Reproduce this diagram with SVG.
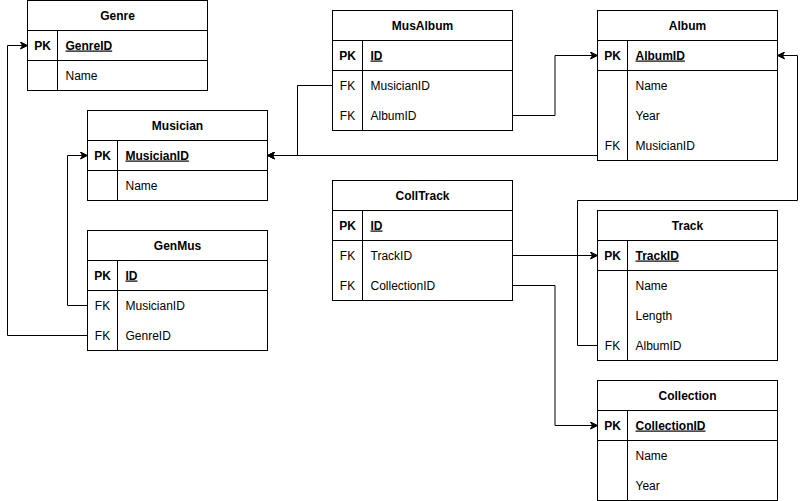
<svg xmlns="http://www.w3.org/2000/svg" width="806" height="501" viewBox="0 0 806 501">
<style>
.t rect{fill:#fff;stroke:#000;stroke-width:1}
.t line{stroke:#000;stroke-width:1}
.t text{font-family:"Liberation Sans",Arial,sans-serif;font-size:12px;fill:#000}
.h{font-weight:bold;text-anchor:middle}
.k{text-anchor:middle}
.kb{text-anchor:middle;font-weight:bold}
.pk{font-weight:bold;text-decoration:underline}
.c path{fill:none;stroke:#000;stroke-width:1}
</style>
<defs>
<marker id="arr" viewBox="-8 -4 9 8" refX="0" refY="0" markerWidth="9" markerHeight="8" markerUnits="userSpaceOnUse" orient="auto">
<path d="M0,0 L-7,-3.5 L-5,0 L-7,3.5 Z" fill="#000" stroke="#000" stroke-width="1"/>
</marker>
</defs>
<rect width="806" height="501" fill="#fff"/>

<g class="c" id="connectors">
<path d="M87.5,335.5 H7.5 V45.5 H27.5" marker-end="url(#arr)"/>
<path d="M87.5,305.5 H67.5 V155.5 H87.5" marker-end="url(#arr)"/>
<path d="M332.5,85.5 H297.5 V155.5 H267.5" marker-end="url(#arr)"/>
<path d="M597.5,155.5 H267.5" marker-end="url(#arr)"/>
<path d="M512.5,115.5 H555 V55.5 H597.5" marker-end="url(#arr)"/>
<path d="M597.5,345.5 H577.5 V200.5 H797.5 V55.5 H777.5" marker-end="url(#arr)"/>
<path d="M512.5,255.5 H597.5" marker-end="url(#arr)"/>
<path d="M512.5,285.5 H555 V425.5 H597.5" marker-end="url(#arr)"/>
</g>

<g class="t" id="genre" transform="translate(27.5,0.5)">
<rect width="180" height="90"/>
<line x1="0" y1="30" x2="180" y2="30"/><line x1="0" y1="60" x2="180" y2="60"/><line x1="30" y1="30" x2="30" y2="90"/>
<text class="h" x="90" y="19">Genre</text>
<text class="kb" x="15" y="49">PK</text><text class="pk" x="38" y="49">GenreID</text>
<text x="38" y="79">Name</text>
</g>

<g class="t" id="musician" transform="translate(87.5,110.5)">
<rect width="180" height="90"/>
<line x1="0" y1="30" x2="180" y2="30"/><line x1="0" y1="60" x2="180" y2="60"/><line x1="30" y1="30" x2="30" y2="90"/>
<text class="h" x="90" y="19">Musician</text>
<text class="kb" x="15" y="49">PK</text><text class="pk" x="38" y="49">MusicianID</text>
<text x="38" y="79">Name</text>
</g>

<g class="t" id="genmus" transform="translate(87.5,230.5)">
<rect width="180" height="120"/>
<line x1="0" y1="30" x2="180" y2="30"/><line x1="0" y1="60" x2="180" y2="60"/><line x1="30" y1="30" x2="30" y2="120"/>
<text class="h" x="90" y="19">GenMus</text>
<text class="kb" x="15" y="49">PK</text><text class="pk" x="38" y="49">ID</text>
<text class="k" x="15" y="79">FK</text><text x="38" y="79">MusicianID</text>
<text class="k" x="15" y="109">FK</text><text x="38" y="109">GenreID</text>
</g>

<g class="t" id="musalbum" transform="translate(332.5,10.5)">
<rect width="180" height="120"/>
<line x1="0" y1="30" x2="180" y2="30"/><line x1="0" y1="60" x2="180" y2="60"/><line x1="30" y1="30" x2="30" y2="120"/>
<text class="h" x="90" y="19">MusAlbum</text>
<text class="kb" x="15" y="49">PK</text><text class="pk" x="38" y="49">ID</text>
<text class="k" x="15" y="79">FK</text><text x="38" y="79">MusicianID</text>
<text class="k" x="15" y="109">FK</text><text x="38" y="109">AlbumID</text>
</g>

<g class="t" id="colltrack" transform="translate(332.5,180.5)">
<rect width="180" height="120"/>
<line x1="0" y1="30" x2="180" y2="30"/><line x1="0" y1="60" x2="180" y2="60"/><line x1="30" y1="30" x2="30" y2="120"/>
<text class="h" x="90" y="19">CollTrack</text>
<text class="kb" x="15" y="49">PK</text><text class="pk" x="38" y="49">ID</text>
<text class="k" x="15" y="79">FK</text><text x="38" y="79">TrackID</text>
<text class="k" x="15" y="109">FK</text><text x="38" y="109">CollectionID</text>
</g>

<g class="t" id="album" transform="translate(597.5,10.5)">
<rect width="180" height="150"/>
<line x1="0" y1="30" x2="180" y2="30"/><line x1="0" y1="60" x2="180" y2="60"/><line x1="30" y1="30" x2="30" y2="150"/>
<text class="h" x="90" y="19">Album</text>
<text class="kb" x="15" y="49">PK</text><text class="pk" x="38" y="49">AlbumID</text>
<text x="38" y="79">Name</text>
<text x="38" y="109">Year</text>
<text class="k" x="15" y="139">FK</text><text x="38" y="139">MusicianID</text>
</g>

<g class="t" id="track" transform="translate(597.5,210.5)">
<rect width="180" height="150"/>
<line x1="0" y1="30" x2="180" y2="30"/><line x1="0" y1="60" x2="180" y2="60"/><line x1="30" y1="30" x2="30" y2="150"/>
<text class="h" x="90" y="19">Track</text>
<text class="kb" x="15" y="49">PK</text><text class="pk" x="38" y="49">TrackID</text>
<text x="38" y="79">Name</text>
<text x="38" y="109">Length</text>
<text class="k" x="15" y="139">FK</text><text x="38" y="139">AlbumID</text>
</g>

<g class="t" id="collection" transform="translate(597.5,380.5)">
<rect width="180" height="120"/>
<line x1="0" y1="30" x2="180" y2="30"/><line x1="0" y1="60" x2="180" y2="60"/><line x1="30" y1="30" x2="30" y2="120"/>
<text class="h" x="90" y="19">Collection</text>
<text class="kb" x="15" y="49">PK</text><text class="pk" x="38" y="49">CollectionID</text>
<text x="38" y="79">Name</text>
<text x="38" y="109">Year</text>
</g>
</svg>
